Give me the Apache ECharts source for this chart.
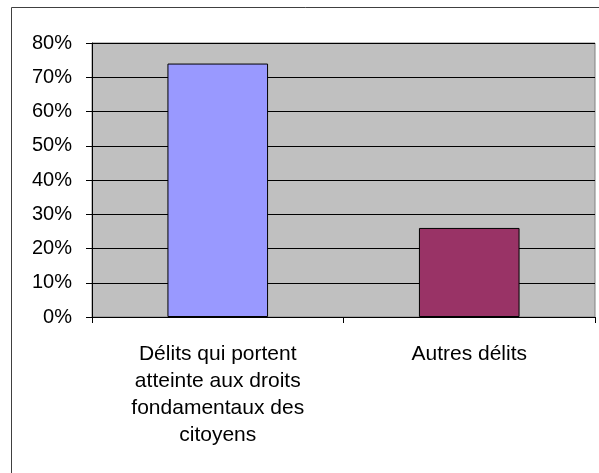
<!DOCTYPE html>
<html>
<head>
<meta charset="utf-8">
<script src="https://cdn.jsdelivr.net/npm/echarts@6/dist/echarts.min.js"></script>
<style>
  html, body { margin: 0; padding: 0; background: #fff; }
  #chart { width: 599px; height: 473px; }
</style>
</head>
<body>
<div id="chart"></div>
<script>
// Share of offences by type (percent)
const categories = [
  'Délits qui portent\natteinte aux droits\nfondamentaux des\ncitoyens',
  'Autres délits'
];
const values = [74, 26];
const barColors = ['#9999ff', '#993366'];
const yTicks = [0, 10, 20, 30, 40, 50, 60, 70, 80];

const chart = echarts.init(document.getElementById('chart'), null, { renderer: 'canvas' });

const font = '"Liberation Sans", Arial, sans-serif';

chart.setOption({
  animation: false,
  backgroundColor: '#fff',
  graphic: [
    {
      type: 'rect',
      shape: { x: 11.5, y: 7.5, width: 620, height: 500 },
      style: { fill: 'none', stroke: '#404040', lineWidth: 1 },
      silent: true,
      z: 0
    }
  ],
  grid: {
    left: 92, top: 43, width: 503, height: 274,
    show: true,
    backgroundColor: '#c0c0c0',
    borderColor: '#808080',
    borderWidth: 1
  },
  xAxis: {
    type: 'category',
    data: categories,
    axisLine: { show: true, lineStyle: { color: '#000', width: 1 } },
    axisTick: { show: true, alignWithLabel: false, length: 6, lineStyle: { color: '#000' } },
    axisLabel: {
      interval: 0,
      margin: 24,
      color: '#000',
      fontFamily: font,
      fontSize: 21,
      lineHeight: 27,
      align: 'center'
    },
    splitLine: { show: false }
  },
  yAxis: {
    type: 'value',
    min: yTicks[0],
    max: yTicks[yTicks.length - 1],
    interval: 10,
    axisLine: { show: true, lineStyle: { color: '#000', width: 1 } },
    axisTick: { show: true, length: 6, lineStyle: { color: '#000' } },
    axisLabel: {
      margin: 20,
      color: '#000',
      fontFamily: font,
      fontSize: 20,
      formatter: v => v + '%'
    },
    splitLine: { show: true, lineStyle: { color: '#000', width: 1 } }
  },
  series: [
    {
      type: 'bar',
      barWidth: '40%',
      data: values.map((v, i) => ({
        value: v,
        itemStyle: { color: barColors[i], borderColor: '#000', borderWidth: 1 }
      }))
    }
  ]
});
</script>
</body>
</html>
